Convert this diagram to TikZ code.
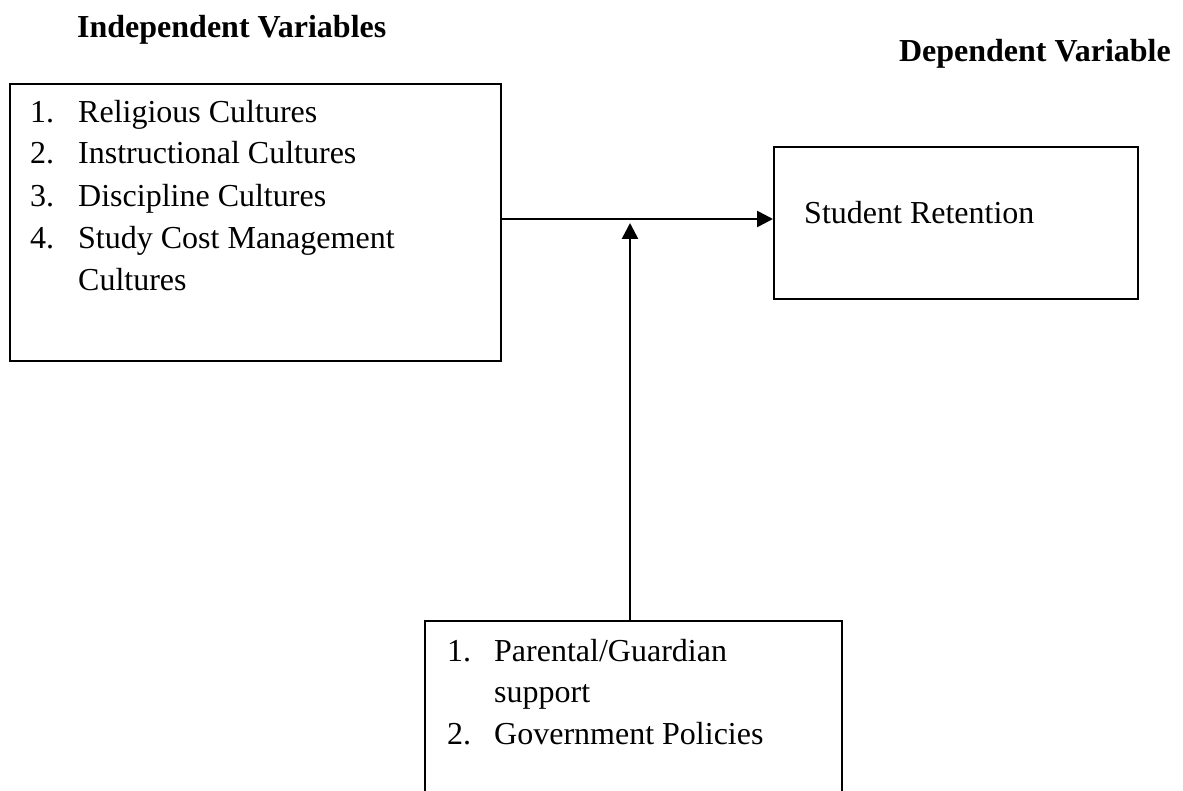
\documentclass[tikz,border=0pt]{standalone}
\usepackage{fontspec}
\setmainfont{Liberation Serif}
\usetikzlibrary{arrows.meta}
\begin{document}
\begin{tikzpicture}[x=1pt,y=-1pt,
  box/.style={draw=black,line width=2pt,minimum width=0pt,minimum height=0pt,inner sep=0pt,anchor=north west},
  txt/.style={inner sep=0pt,anchor=base west,font=\fontsize{32}{38}\selectfont},
  ttl/.style={inner sep=0pt,font=\fontsize{32}{38}\selectfont\bfseries},
  arr/.style={line width=2.6pt,-{Triangle[length=16pt,width=16pt]}}]
\useasboundingbox (0,0) rectangle (1183,791);
% titles
\node[ttl,anchor=base west] (t1) at (77,38) {Independent Variables};
\node[ttl,anchor=base east] (t2) at (1171,62) {Dependent Variable};
% boxes
\node[box,minimum width=491pt,minimum height=277pt] (b1) at (9,83) {};
\node[box,minimum width=364pt,minimum height=152pt] (b2) at (773,146) {};
\node[box,minimum width=417pt,minimum height=185pt] (b3) at (424,620) {};
% box 1 text
\node[txt] (n11) at (30,123) {1.};
\node[txt] (l11) at (78,123) {Religious Cultures};
\node[txt] (n12) at (30,164) {2.};
\node[txt] (l12) at (78,164) {Instructional Cultures};
\node[txt] (n13) at (30,207) {3.};
\node[txt] (l13) at (78,207) {Discipline Cultures};
\node[txt] (n14) at (30,249) {4.};
\node[txt] (l14) at (78,249) {Study Cost Management};
\node[txt] (l15) at (78,291) {Cultures};
% box 2 text
\node[txt] (l21) at (804,224) {Student Retention};
% box 3 text
\node[txt] (n31) at (447,661) {1.};
\node[txt] (l31) at (494,661) {Parental/Guardian};
\node[txt] (l32) at (494,702) {support};
\node[txt] (n33) at (447,744) {2.};
\node[txt] (l33) at (494,744) {Government Policies};
% connectors
\coordinate (j) at (630,219);
\coordinate (jt) at (630,223);
\draw[arr] (b1.east |- j) -- (b2.west |- j);
\draw[arr] (jt |- b3.north) -- (jt);
\end{tikzpicture}
\end{document}
